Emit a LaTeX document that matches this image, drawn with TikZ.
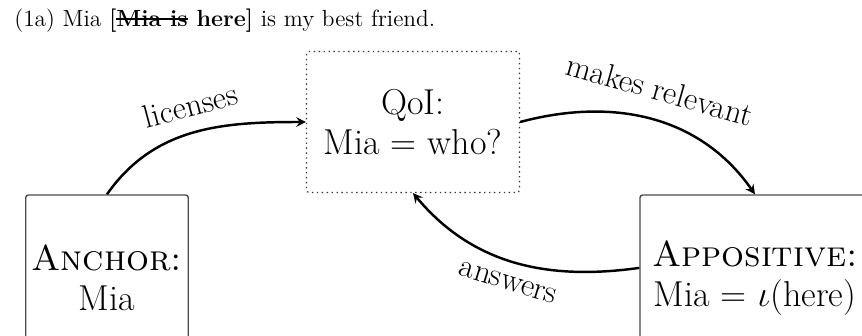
\documentclass[tikz,border=0pt]{standalone}
\usetikzlibrary{arrows}
\newcommand{\strk}[1]{\leavevmode\setbox0\hbox{#1}\rlap{\rule[0.3em]{\wd0}{0.07em}}\box0\relax}

\begin{document}
\begin{tikzpicture}[>=stealth, x=0.02cm, y=0.02cm,
    box/.style={draw=black!70, line width=0.8pt, rounded corners=1.5pt, align=center, font=\fontsize{20.5}{23}\selectfont},
    qbox/.style={box, draw=black!80, dotted, line width=0.7pt},
    rel/.style={->, line width=1.4pt},
    lbl/.style={font=\fontsize{18.5}{21}\selectfont, sloped}]
  \useasboundingbox (0,0) rectangle (862,335);
  \clip (0,0) rectangle (862,335);

  \node[anchor=base west, inner sep=0pt, font=\fontsize{13.3}{16}\selectfont] (ex) at (14,308) {(1a) Mia \textbf{[\strk{Mia is} here]} is my best friend.};

  \node[qbox, minimum width=4.26cm, minimum height=2.82cm] (qoi) at (413,213) {QoI:\\Mia = who?};
  \node[box, minimum width=3.24cm, minimum height=3.32cm] (anchor) at (107,57) {\textsc{Anchor:}\\Mia};
  \node[box, minimum width=4.6cm, minimum height=3.32cm] (appos) at (755,57) {\textsc{Appositive:}\\Mia = $\iota$(here)};

  \draw[rel] (anchor.north) to[out=55, in=180] node[lbl, pos=0.52, above=5pt] {licenses} (qoi.west);
  \draw[rel] (qoi.east) to[out=15, in=125] node[lbl, pos=0.5, above=7pt] {makes relevant} (appos.north);
  \draw[rel] (appos.175) to[out=188, in=-50] node[lbl, pos=0.5, below=4pt] {answers} (qoi.south);
\end{tikzpicture}
\end{document}
